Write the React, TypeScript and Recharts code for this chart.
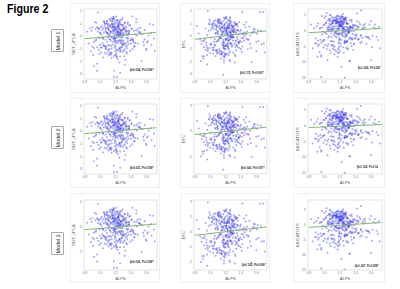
import React from 'react';
import { ScatterChart, Scatter, XAxis, YAxis, ReferenceArea } from 'recharts';

// ALPS index, shared by every panel (the first rows are the stragglers)
const alps = [
  0.97, 1.18, 1.22, 1.18, 1.26, 1.32, 1.54, 0.92, 0.96, 0.96, 1.71, 0.85, 0.83, 1.69, 1.42, 1.65, 1.17, 0.88, 1.67, 1.25, 1.47, 1.33, 1.04, 0.91, 1.6,
  1.21, 1.25, 1.18, 1.3, 1.12, 1.27, 1.06, 1.34, 1.23, 1.15,
  1.09, 1.2, 1.38, 1.24, 1.02, 1.28, 1.16, 1.44, 1.22, 1.11,
  1.26, 1.19, 0.99, 1.31, 1.14, 1.36, 1.23, 1.08, 1.29, 1.17,
  1.05, 1.21, 1.41, 1.13, 1.25, 0.96, 1.33, 1.19, 1.27, 1.1,
  1.5, 1.24, 1.07, 1.16, 1.35, 1.2, 0.94, 1.28, 1.12, 1.39,
  1.22, 1.03, 1.3, 1.18, 1.46, 1.09, 1.26, 1.15, 1.32, 0.98,
  1.23, 1.11, 1.37, 1.2, 1.01, 1.29, 1.17, 1.55, 1.25, 1.06,
  1.14, 1.34, 1.21, 0.92, 1.27, 1.19, 1.43, 1.08, 1.31, 1.24,
  1.13, 1.58, 1.22, 1.04, 1.28, 1.16, 1.36, 1.0, 1.26, 1.18,
  1.1, 1.4, 1.23, 0.95, 1.3, 1.2, 1.48, 1.07, 1.33, 1.15,
  1.25, 1.12, 0.89, 1.29, 1.21, 1.62, 1.17, 1.05, 1.35, 1.24,
  1.19, 1.02, 1.42, 1.27, 1.09, 1.22, 0.93, 1.32, 1.14, 1.52,
  1.26, 1.16, 0.99, 1.38, 1.2, 1.11, 1.3, 1.66, 1.23, 1.06,
  1.18, 1.34, 1.13, 1.45, 1.25, 0.97, 1.28, 1.08, 1.21, 1.56,
  1.15, 1.31, 1.03, 1.24, 1.37, 1.19, 0.9, 1.27, 1.1, 1.49,
  1.22, 1.17, 1.4, 1.01, 1.29, 1.12, 1.33, 1.2, 0.94, 1.6,
  1.26, 1.07, 1.36, 1.23, 1.14, 1.44, 1.18, 1.04, 1.3, 1.7,
  1.21, 1.09, 1.28, 0.98, 1.35, 1.16, 1.24, 1.51, 1.11, 1.19,
  1.32, 1.05, 1.25, 1.41, 1.13, 0.87, 1.27, 1.2, 1.58, 1.08,
  1.23, 1.15, 1.39, 1.0, 1.3, 1.18, 1.47, 1.1, 1.26, 1.63,
  1.2, 1.13, 1.27, 1.06, 1.33, 1.18, 1.24, 1.01, 1.37, 1.15,
  1.22, 1.29, 1.1, 1.17, 1.42, 1.25, 0.99, 1.31, 1.19, 1.08,
  1.14, 1.26, 1.35, 1.21, 1.04, 1.28, 1.16, 1.46, 1.23, 1.12,
  1.3, 1.18, 1.07, 1.24, 1.39, 1.2, 0.95, 1.27, 1.11, 1.34,
  1.22, 1.15, 1.53, 1.02, 1.29, 1.19, 1.36, 1.09, 1.25, 1.17,
  1.13, 1.32, 1.21, 1.05, 1.44, 1.26, 1.16, 0.97, 1.28, 1.23,
  1.1, 1.38, 1.19, 1.31, 1.14, 1.24, 1.03, 1.49, 1.2, 1.27,
  1.08, 1.17, 1.34, 1.22, 0.92, 1.3, 1.12, 1.41, 1.25, 1.18,
  1.06, 1.21, 1.57, 1.15, 1.33, 1.26, 1.0, 1.19, 1.37, 1.11,
  1.23, 1.28, 1.09, 1.43, 1.16, 1.2, 1.35, 0.9, 1.24, 1.13,
  1.29, 1.04, 1.18, 1.47, 1.22, 1.1, 1.32, 1.26, 1.61, 1.15,
  1.2, 1.36, 1.07, 1.25, 1.12, 1.3, 1.17, 1.52, 0.96, 1.23,
];

const sdtValues = [
  1.87, -2.74, -3.25, -3.25, -2.9, -2.3, -2.0, -2.4, -2.2, -2.75, -1.16, -0.6, 0.34, 0.9, 1.55, 0.95, 1.5, -1.2, -0.7, -2.1, 1.1, -1.9, -1.7, -1.5, -1.0,
  0.62, -0.31, 0.95, 0.18, -0.72, 0.44, 1.05, -0.15, 1.22, 0.3,
  -0.48, 0.75, 0.22, -1.12, 0.12, 0.88, -0.65, 0.41, 0.05, 0.66,
  1.1, -0.92, -0.18, 0.55, 0.36, -0.42, 0.72, -1.05, -0.08, 1.32,
  0.28, -1.35, 0.6, -0.25, 0.98, -0.88, 0.15, 0.5, -0.58, 0.8,
  0.35, 0.1, -0.78, 1.15, -0.95, 0.25, 0.55, 1.28, -1.42, -0.35,
  -0.12, -0.55, 0.68, -1.58, 0.12, 1.18, 0.42, -0.05, 1.02, -1.1,
  0.85, 0.48, -0.62, -0.38, 0.7, -1.25, 0.2, 0.15, 0.58, -0.82,
  1.4, 0.32, -1.68, -0.45, 0.92, -0.72, -0.28, 0.62, -1.15, -0.02,
  -1.3, 0.48, 0.38, -0.15, -0.85, 0.78, 1.08, -0.68, 0.16, 1.48,
  0.95, -0.6, -1.82, 1.05, -0.5, -1.48, 0.05, -0.3, 0.45, -0.98,
  0.3, -1.02, 0.42, 1.42, 0.08, -0.42, -0.2, 1.12, -1.38, 0.9,
  0.52, -0.88, -1.05, -0.12, 0.26, -1.62, 1.12, 0.7, -0.4, 0.28,
  -1.25, 1.3, 0.58, 0.82, -0.22, 0.1, -0.7, 0.25, 0.4, -1.32,
  0.65, -0.55, 0.82, -0.78, -1.02, 0.35, 0.3, 1.0, 1.55, -0.45,
  -0.1, -1.6, 0.45, 0.72, 0.15, -1.2, 0.7, -0.35, -0.75, 0.58,
  1.25, 0.38, -0.3, -1.28, 0.5, 0.9, -0.82, -0.55, -0.35, -1.1,
  0.12, 0.6, 0.95, -0.4, -1.48, -0.52, 1.38, -0.72, 0.22, -0.2,
  -1.05, 0.18, -0.9, 0.55, 0.4, 0.98, 0.75, 0.3, -1.55, 0.08,
  -0.62, 1.2, -0.05, -0.18, 0.75, 0.62, 0.48, -0.8, -0.28, -1.4,
  0.34, 1.15, -1.18, 0.22, 0.85, -0.28, 1.35, -0.1, -0.95, 0.05,
  0.72, 0.22, -0.48, 0.95, 0.58, -0.15, 1.02, -0.92, 0.38, 0.65,
  0.15, 0.85, -1.22, 0.48, -0.32, 0.55, -1.42, -0.62, 1.12, 0.32,
  -0.78, 1.28, 0.12, -1.52, 0.62, 0.42, 0.92, -0.55, 0.78, 0.05,
  -0.35, 0.68, -0.98, 0.28, 0.88, -0.18, -0.28, -1.12, 0.52, 0.75,
  1.08, -1.72, 0.18, 0.82, -0.68, 0.35, -0.22, 0.98, -0.42, 0.45,
  1.22, -1.05, 0.58, -0.72, -0.85, 0.25, 1.35, 0.65, 0.02, -0.58,
  0.22, 0.42, -0.38, 0.62, -1.32, 0.85, -0.12, -0.62, 0.48, 0.18,
  -0.88, 0.72, -1.28, 0.32, -0.95, 0.52, -0.25, 0.58, 1.15, -0.05,
  0.78, -0.48, -0.72, 0.92, 0.35, -1.62, 0.28, -0.18, 0.22, -1.08,
  0.55, -0.32, 1.18, -0.42, 0.68, 1.25, -0.75, -0.85, 0.12, 0.38,
  -0.65, -0.22, 0.82, 0.45, -1.15, 0.62, 1.05, 0.18, -0.52, -1.38,
  0.98, -0.12, 0.42, -0.95, 1.32, 0.08, -0.45, 0.65, 0.7, 0.25,
];

const efcValues = [
  1.97, -2.1, -1.4, -1.9, -2.0, -2.1, -2.05, -1.6, -2.25, -1.5, -1.3, 0.2, 0.8, 1.9, 1.9, 1.9, -3.07, -2.0, -0.64, -1.9, 1.1, -1.6, -1.4, -1.8, -1.2,
  0.4, 0.95, -0.55, 0.72, -1.05, 0.18, 0.85, -0.42, 1.28, -0.15,
  0.3, -0.78, 1.12, 0.05, -0.62, 0.55, -1.28, 0.9, 0.25, -0.35,
  -0.1, 0.68, -0.95, 0.35, 1.02, -0.25, 0.12, -1.15, 0.78, -0.7,
  1.2, 0.45, -0.48, -1.42, 0.62, 0.08, -0.85, 1.35, -0.05, 0.22,
  -0.3, 0.82, -1.58, 0.15, 0.5, -0.68, -1.1, -0.2, 1.08, 0.38,
  0.58, -0.92, -0.38, 1.45, 0.7, -1.22, 0.28, 0.92, -1.48, 0.42,
  -0.58, 1.15, 0.1, -1.0, -0.12, 0.65, -0.32, 0.22, -1.35, 0.98,
  0.48, -0.72, 1.52, -0.88, 0.02, -1.68, -0.15, -0.45, 0.8, 0.6,
  -1.18, 0.52, -0.22, 1.05, -0.6, 0.32, 0.75, -1.32, 1.38, -0.8,
  0.15, -1.02, 0.88, -0.52, -1.3, 0.58, 0.35, 1.25, -0.35, 0.72,
  1.0, -0.18, -0.65, -0.75, 1.42, 0.48, 0.38, -0.9, -0.08, -1.55,
  -1.05, 0.95, 0.2, 1.18, -0.42, 0.62, -0.28, -0.62, -1.78, 0.05,
  0.3, -0.58, 1.3, -0.95, -1.4, 1.32, 0.12, 0.42, -0.68, -0.25,
  0.85, -1.12, 0.55, -0.02, 0.28, -1.2, -0.82, 0.78, -0.3, 0.35,
  -1.45, 1.12, 0.68, -0.18, -0.55, 0.92, -0.4, 0.45, 1.25, -1.05,
  0.18, -1.62, 0.5, -0.7, -0.1, 0.8, 1.02, -0.78, 0.6, -0.48,
  1.48, 0.25, -0.88, 0.72, 1.1, -0.35, -0.5, -1.08, 0.4, -0.6,
  -0.2, -1.38, 0.32, 0.98, -0.72, 0.65, -0.95, 0.75, 1.05, 0.1,
  0.55, -0.45, 1.18, -1.25, -0.12, -0.3, 0.02, -1.5, 0.28, 0.85,
  -0.78, 0.7, 0.2, -0.62, 0.42, -1.0, 0.12, 1.22, 0.88, -0.4,
  -0.22, 0.58, 1.05, -0.68, 0.32, 0.82, -1.02, 0.48, -0.45, -1.25,
  0.75, -0.12, 0.38, 1.18, -0.82, -0.32, 0.92, 0.28, -1.45, 0.62,
  0.08, -0.58, 0.95, 0.42, -1.12, -0.05, 0.68, 0.22, -0.88, 1.32,
  0.52, -1.32, 0.18, 0.72, -0.38, 1.02, -0.72, 0.12, -0.28, 0.88,
  -0.62, 0.35, -0.95, 0.65, 0.02, -1.58, 0.45, 0.78, 1.25, -0.48,
  -0.18, 0.98, -0.78, 0.55, 0.28, -1.18, 0.15, -1.05, 0.85, -0.35,
  1.12, -0.52, 0.62, -0.08, -1.38, 0.38, 0.92, -0.25, 1.42, -0.65,
  0.48, -0.92, 0.22, 1.08, -0.42, 0.72, -1.22, -0.15, 0.05, 0.58,
  -0.75, 0.32, 0.55, -1.48, 0.88, -0.28, 1.15, 0.42, -0.58, 0.68,
  -0.02, 0.78, -1.08, 0.12, -0.7, 0.25, 0.95, -1.62, -0.4, 1.22,
  0.35, 0.82, -0.85, -0.22, 0.6, -1.35, 0.5, -0.55, 0.18, 1.02,
  -0.32, 0.42, -1.15, 0.7, 0.98, -0.1, 0.3, -0.62, -0.9, 0.15,
];

const mocaValues = [
  1.0, -7.0, -11.5, -6.0, -15.0, -9.7, -4.2, -5.0, -8.3, -14.7, -5.6, -5.6, 2.0, -3.0, 5.5, 2.0, -8.3, -4.0, -2.0, -7.0, 6.4, -9.7, -9.4, -8.3, -9.4,
  2.1, 3.4, -1.2, 1.0, -3.5, 4.2, 0.3, -2.4, 2.8, 1.5,
  -0.8, 3.0, -4.2, 0.6, 2.5, -1.8, 4.6, 1.2, -3.0, 0.2,
  3.8, -5.2, 1.8, -0.5, 2.2, -2.8, 0.9, 4.9, -1.5, 3.2,
  -2.2, 1.4, 0.5, -6.1, 3.6, -3.8, 1.1, 2.6, -0.2, -4.8,
  1.7, 0.0, 5.1, -2.0, 2.9, -0.9, -6.8, 3.3, 0.7, -1.4,
  4.0, -1.1, -3.2, 1.3, 2.0, -4.5, 0.4, 3.0, -2.6, -0.3,
  2.4, -5.8, 1.6, 4.4, -0.6, -3.5, 2.7, -2.0, 0.1, 3.5,
  -1.9, 0.8, -4.0, 2.3, 3.9, -2.3, 1.0, -7.2, -0.4, 2.5,
  1.2, -2.7, 4.7, 0.4, -5.5, 3.1, -1.0, 2.0, -3.3, 0.6,
  4.3, 1.5, -0.7, -2.9, 2.2, 3.7, -3.6, 1.9, -0.1, -6.4,
  0.9, 3.2, -2.5, 1.1, -4.7, -1.6, 2.6, 0.3, -5.0, 5.3,
  -1.3, 2.4, 3.0, -3.1, 1.8, 4.5, -4.4, 0.5, -0.9, 2.1,
  -2.1, 3.6, -3.0, -0.2, 1.4, 2.8, -5.6, 0.7, 2.9, -1.7,
  -4.1, 1.0, 3.4, 2.6, 0.2, -1.2, 4.1, -3.4, 1.6, -2.2,
  2.7, -0.5, -5.9, 3.8, 0.8, -3.7, 1.3, -0.1, 2.3, 0.9,
  1.9, 4.8, -2.4, -0.6, 2.4, -1.5, 3.3, -6.6, 0.6, 3.0,
  -3.9, 2.2, 1.0, 3.1, -0.3, -2.8, 1.7, -4.9, 0.4, 1.3,
  2.9, -2.0, 0.0, -3.4, 3.5, -1.0, -5.3, 0.5, 1.4, -0.8,
  1.1, -4.3, 2.5, -1.8, -7.6, 0.7, 3.7, -2.7, 2.0, 0.3,
  -0.4, 4.2, 1.8, -3.0, -6.0, 2.8, -1.4, 0.6, -3.8, 1.0,
  2.6, -0.7, 1.3, 3.7, -2.2, 0.5, 4.4, -4.6, 1.9, 3.0,
  -1.1, 2.2, -3.3, 0.8, 1.5, 3.5, -5.4, -0.3, 2.7, 1.0,
  4.1, 0.2, -2.8, 1.6, 3.2, -1.6, 2.4, -3.9, 0.6, 2.9,
  -0.9, 3.9, -6.3, 1.2, -2.5, 2.0, 0.9, -1.3, 3.4, -4.0,
  1.7, 2.5, -1.9, 4.6, 0.1, -3.0, 1.1, 3.1, -0.6, 2.3,
  -5.1, 0.4, 3.6, 1.4, -2.6, 2.8, -0.2, 4.7, -3.6, 1.8,
  0.7, -4.4, 2.1, 0.0, 3.3, -1.7, 5.6, -2.3, 1.5, -0.8,
  3.8, -7.0, 1.2, 2.6, -3.2, 0.3, 4.2, -1.2, 2.2, -5.7,
  1.0, 3.0, -2.1, -0.5, 1.6, -3.7, 4.0, 0.6, -6.2, 2.4,
  -1.4, 2.7, 0.2, -2.9, 3.6, 1.3, -0.1, -4.2, 2.0, 3.3,
  -3.5, 0.9, 4.5, -1.8, 1.4, 2.5, -0.7, 3.4, -5.3, 0.5,
  1.9, -2.4, 3.1, 0.8, -4.7, 2.2, -1.0, 1.1, -7.8, 4.3,
];

const xTicks = [0.8, 1.0, 1.2, 1.4, 1.6];
const modelLabels = ['Model 1', 'Model 2', 'Model 3'];

const panels = [
  { x: 70, y: 3, w: 90, h: 90, frameX: 84, frameW: 73, frameY: 9, frameH: 70, name: 'SDT_zPCA', values: sdtValues, yDomain: [-3.4, 2.14], yTicks: [-3, -2, -1, 0, 1, 2], fit: [-0.21, 0.29], note: 'β=0.024, P=0.006*', noteX: 130, noteY: 70 },
  { x: 180, y: 3, w: 90, h: 90, frameX: 194, frameW: 73, frameY: 9, frameH: 70, name: 'EFC', values: efcValues, yDomain: [-3.4, 2.14], yTicks: [-3, -2, -1, 0, 1, 2], fit: [-0.26, 0.41], note: 'β=0.172, P=0.003*', noteX: 240, noteY: 73 },
  { x: 293, y: 3, w: 92, h: 90, frameX: 308, frameW: 74, frameY: 9, frameH: 70, name: 'MOCATOTS', values: mocaValues, yDomain: [-15.4, 6.9], yTicks: [-15, -10, -5, 0, 5], fit: [-0.64, 0.74], note: 'β=1.265, P=0.047', noteX: 358, noteY: 68 },
  { x: 70, y: 98, w: 90, h: 90, frameX: 84, frameW: 73, frameY: 104, frameH: 70, name: 'SDT_zPCA', values: sdtValues, yDomain: [-3.4, 2.14], yTicks: [-3, -2, -1, 0, 1, 2], fit: [-0.2, 0.26], note: 'β=0.023, P=0.008*', noteX: 130, noteY: 168 },
  { x: 180, y: 98, w: 90, h: 90, frameX: 194, frameW: 73, frameY: 104, frameH: 70, name: 'EFC', values: efcValues, yDomain: [-3.4, 2.14], yTicks: [-2, 0, 2], fit: [-0.28, 0.3], note: 'β=0.043, P=0.007*', noteX: 241, noteY: 168 },
  { x: 293, y: 98, w: 92, h: 90, frameX: 308, frameW: 74, frameY: 104, frameH: 70, name: 'MOCATOTS', values: mocaValues, yDomain: [-15.4, 7.0], yTicks: [-15, -10, -5, 0, 5], fit: [-0.53, 0.43], note: 'β=1.126, P=0.14', noteX: 357, noteY: 167 },
  { x: 70, y: 193, w: 90, h: 90, frameX: 84, frameW: 73, frameY: 200, frameH: 70, name: 'SDT_zPCA', values: sdtValues, yDomain: [-3.44, 2.16], yTicks: [-2, 0, 2], fit: [-0.21, 0.24], note: 'β=0.026, P=0.008*', noteX: 130, noteY: 262 },
  { x: 180, y: 193, w: 90, h: 90, frameX: 194, frameW: 73, frameY: 200, frameH: 70, name: 'EFC', values: efcValues, yDomain: [-2.53, 2.13], yTicks: [-2, -1, 0, 1, 2], fit: [-0.22, 0.33], note: 'β=0.162, P=0.009*', noteX: 242, noteY: 265 },
  { x: 293, y: 193, w: 92, h: 90, frameX: 308, frameW: 74, frameY: 200, frameH: 70, name: 'MOCATOTS', values: mocaValues, yDomain: [-15.2, 8.4], yTicks: [-15, -10, -5, 0, 5], fit: [-0.8, 0.8], note: 'β=1.267, P=0.028*', noteX: 355, noteY: 266 },
];

const fontFamily = '"Liberation Sans", Arial, sans-serif';
const tickStyle = { fontSize: 3.4, fill: '#777', fontFamily };
const xDomain = [0.79, 1.74];
const fitX = [0.8, 1.73];

const Dot = ({ cx, cy }: any) => <circle cx={cx} cy={cy} r={1} fill="#3a3af0" fillOpacity={0.45} />;

function Panel({ p }: { p: (typeof panels)[number] }) {
  const data = alps.map((a, i) => ({ x: a, y: p.values[i] }));
  const fitData = fitX.map((a, i) => ({ x: a, y: p.fit[i] }));
  return (
    <div style={{ position: 'absolute', left: p.x, top: p.y, width: p.w, height: p.h, background: '#fff', boxShadow: 'inset 0 0 0 1px #f0f0f0' }}>
      <ScatterChart
        width={p.w}
        height={p.h}
        margin={{ top: p.frameY - p.y, right: p.x + p.w - p.frameX - p.frameW, bottom: 0, left: 0 }}
      >
        <XAxis
          type="number"
          dataKey="x"
          domain={xDomain}
          ticks={xTicks}
          tickFormatter={(v: number) => v.toFixed(1)}
          tick={tickStyle}
          tickLine={false}
          tickSize={0}
          axisLine={false}
          tickMargin={2}
          height={p.y + p.h - p.frameY - p.frameH}
          label={{ value: 'ALPS', position: 'center', dy: 2, style: { fontSize: 4.2, fill: '#555', fontFamily } }}
        />
        <YAxis
          type="number"
          dataKey="y"
          domain={p.yDomain}
          ticks={p.yTicks}
          tick={tickStyle}
          tickLine={false}
          tickSize={0}
          axisLine={false}
          tickMargin={2}
          width={p.frameX - p.x}
          allowDataOverflow
          label={{ value: p.name, angle: -90, position: 'center', dx: -3, style: { fontSize: 4.2, fill: '#555', fontFamily } }}
        />
        <ReferenceArea x1={xDomain[0]} x2={xDomain[1]} y1={p.yDomain[0]} y2={p.yDomain[1]} fill="none" stroke="#e2e2e2" strokeWidth={1} />
        <Scatter data={data} shape={Dot} isAnimationActive={false} />
        <Scatter data={fitData} line={{ stroke: '#86b56f', strokeWidth: 1 }} shape={() => <g />} isAnimationActive={false} />
      </ScatterChart>
      <div style={{ position: 'absolute', left: p.noteX - p.x, top: p.noteY - p.y - 2, fontSize: 2.8, fontWeight: 700, color: '#222', fontFamily, whiteSpace: 'nowrap', lineHeight: '4px' }}>
        {p.note}
      </div>
    </div>
  );
}

export default function App() {
  return (
    <div style={{ position: 'absolute', left: 0, top: 0, width: 400, height: 289, background: '#fff', overflow: 'hidden' }}>
      <div style={{ position: 'absolute', left: 7, top: 2, fontSize: 12.5, fontWeight: 700, color: '#000', fontFamily, whiteSpace: 'nowrap', transform: 'scaleX(0.85)', transformOrigin: 'left' }}>Figure 2</div>
      {modelLabels.map((label, i) => (
        <div
          key={label}
          style={{
            position: 'absolute',
            left: 51,
            top: [29, 126, 232][i],
            width: 13,
            height: 23,
            boxSizing: 'border-box',
            border: '1px solid #aaa',
            borderRadius: 1,
            display: 'flex',
            alignItems: 'center',
            justifyContent: 'center',
          }}
        >
          <span style={{ transform: 'rotate(-90deg)', fontSize: 5.4, color: '#333', fontFamily, whiteSpace: 'nowrap' }}>{label}</span>
        </div>
      ))}
      {panels.map((p, i) => (
        <Panel key={i} p={p} />
      ))}
    </div>
  );
}
